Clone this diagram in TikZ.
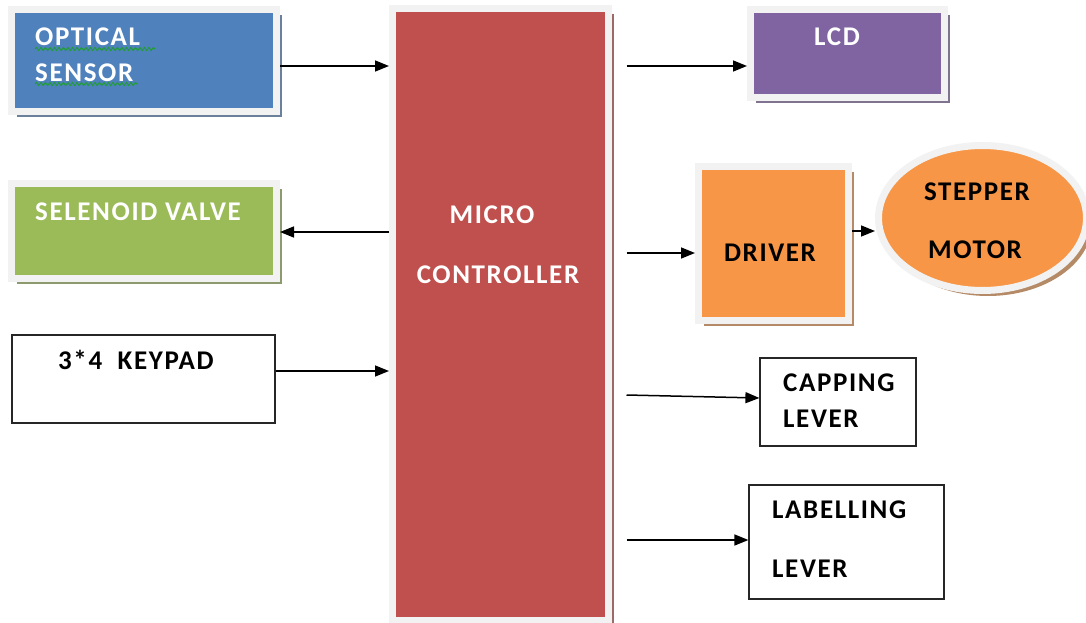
\documentclass[tikz,border=0pt]{standalone}
\usepackage{fontspec}
\setmainfont{Carlito}[LetterSpace=6]
\usetikzlibrary{arrows.meta,shadows,shapes.geometric,decorations.pathmorphing}
\definecolor{frameg}{HTML}{F2F2F2}
\definecolor{cblue}{HTML}{4F81BD}
\definecolor{cgreen}{HTML}{9BBB59}
\definecolor{cred}{HTML}{C0504D}
\definecolor{cpurple}{HTML}{8064A2}
\definecolor{corange}{HTML}{F79646}
\definecolor{squigg}{HTML}{1E9E2E}
\tikzset{
  fbox/.style={draw=frameg, line width=7pt, fill=#1, inner sep=0pt,
    drop shadow={shadow xshift=5.5pt, shadow yshift=-5.5pt, fill=#1!45!gray, opacity=1}},
  wbox/.style={draw=black!85, line width=1.2pt, fill=white, inner sep=0pt},
  lbl/.style={inner sep=0pt, font=\bfseries\fontsize{27}{36}\selectfont},
  arr/.style={-{Triangle[length=14pt,width=11pt]}, line width=1.5pt},
  squig/.style={draw=squigg, line width=0.9pt, decorate,
    decoration={snake, amplitude=1.6pt, segment length=4.5pt}}
}
\begin{document}
\begin{tikzpicture}[x=1pt,y=-1pt]
\useasboundingbox[fill=white] (0,0) rectangle (1086,623);
% boxes
\node[fbox=cblue, minimum width=265pt, minimum height=102pt] (opt) at (144,60.5) {};
\node[fbox=cgreen, minimum width=265pt, minimum height=95pt] (sel) at (144,231) {};
\node[fbox=cred, minimum width=216pt, minimum height=612pt] (mc) at (500.5,314.5) {};
\node[fbox=cpurple, minimum width=194pt, minimum height=88pt] (lcd) at (847.5,53.5) {};
\node[fbox=corange, minimum width=150pt, minimum height=154pt] (drv) at (773.5,243.5) {};
\node[fbox=corange, ellipse, minimum width=208pt, minimum height=145pt] (mot) at (982.5,218) {};
\node[wbox, minimum width=263pt, minimum height=88pt] (key) at (143.5,379) {};
\node[wbox, minimum width=156pt, minimum height=88pt] (cap) at (838,402) {};
\node[wbox, minimum width=195pt, minimum height=114pt] (lab) at (846.5,542) {};
% labels
\node[lbl, text=white, align=left, anchor=west] (toptl) at (35,55) {OPTICAL\\SENSOR};
\node[lbl, text=white, anchor=west] (tsel) at (35,212) {SELENOID VALVE};
\node[lbl, anchor=west] (tkey) at (58,360) {3*4\ \ KEYPAD};
\node[lbl, text=white] (tmc1) at (492,215) {MICRO};
\node[lbl, text=white] (tmc2) at (498,275) {CONTROLLER};
\node[lbl, text=white] (tlcd) at (837,37) {LCD};
\node[lbl] (tdrv) at (770,253) {DRIVER};
\node[lbl] (tmot1) at (977,192) {STEPPER};
\node[lbl] (tmot2) at (975,250) {MOTOR};
\node[lbl, align=left, anchor=west] (tcap) at (783,401) {CAPPING\\LEVER};
\node[lbl, anchor=west] (tlab1) at (772,510) {LABELLING};
\node[lbl, anchor=west] (tlab2) at (772,569) {LEVER};
% spelling squiggles
\draw[squig] (35,49) -- (155,49);
\draw[squig] (35,84) -- (138,84);
% rows
\coordinate (r1) at (0,66);
\coordinate (r2) at (0,232);
\coordinate (r3) at (0,371);
\coordinate (r4) at (0,253);
\coordinate (r5) at (0,231);
\coordinate (r6a) at (0,395);
\coordinate (r6b) at (0,398);
\coordinate (r7) at (0,540);
\coordinate (mco) at ([xshift=14.5pt]mc.east);
% connectors
\draw[arr] (opt.east |- r1) -- (mc.west |- r1);
\draw[arr] (mc.west |- r2) -- (sel.east |- r2);
\draw[arr] (key.east |- r3) -- (mc.west |- r3);
\draw[arr] (mco |- r1) -- (lcd.west |- r1);
\draw[arr] (mco |- r4) -- (drv.west |- r4);
\draw[arr] (drv.east |- r5) -- (mot.west |- r5);
\draw[arr] (mco |- r6a) -- (cap.west |- r6b);
\draw[arr] (mco |- r7) -- (lab.west |- r7);
\end{tikzpicture}
\end{document}
